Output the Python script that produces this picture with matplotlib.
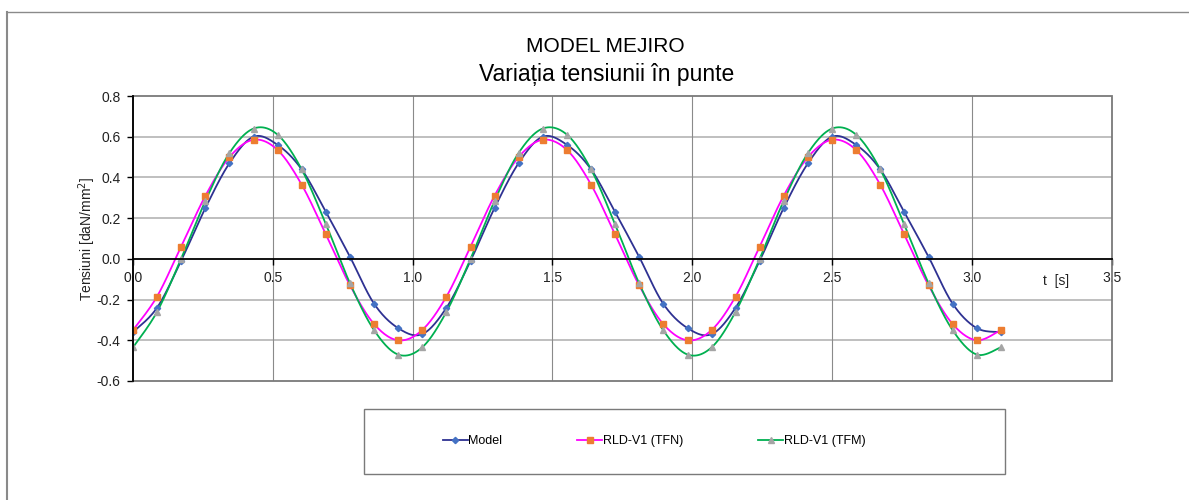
import numpy as np
import matplotlib
matplotlib.use("Agg")
import matplotlib.pyplot as plt
from matplotlib.lines import Line2D
from matplotlib.patches import Rectangle

plt.rcParams['font.family'] = ['Liberation Sans', 'DejaVu Sans']

# time samples [s]
t = [0.000, 0.086, 0.172, 0.259, 0.345, 0.431, 0.517, 0.603, 0.690, 0.776,
     0.862, 0.948, 1.034, 1.121, 1.207, 1.293, 1.379, 1.465, 1.552, 1.638,
     1.724, 1.810, 1.896, 1.983, 2.069, 2.155, 2.241, 2.327, 2.414, 2.500,
     2.586, 2.672, 2.758, 2.845, 2.931, 3.017, 3.103]

model = [-0.36, -0.24, -0.01, 0.25, 0.47, 0.60, 0.56, 0.44, 0.23, 0.01,
         -0.22, -0.34, -0.37, -0.24, -0.01, 0.25, 0.47, 0.60, 0.56, 0.44,
         0.23, 0.01, -0.22, -0.34, -0.37, -0.24, -0.01, 0.25, 0.47, 0.60,
         0.56, 0.44, 0.23, 0.01, -0.22, -0.34, -0.36]

tfn = [-0.35, -0.185, 0.06, 0.31, 0.50, 0.585, 0.535, 0.365, 0.12, -0.13,
       -0.32, -0.40, -0.35, -0.185, 0.06, 0.31, 0.50, 0.585, 0.535, 0.365,
       0.12, -0.13, -0.32, -0.40, -0.35, -0.185, 0.06, 0.31, 0.50, 0.585,
       0.535, 0.365, 0.12, -0.13, -0.32, -0.40, -0.35]

tfm = [-0.435, -0.26, 0.0, 0.285, 0.52, 0.64, 0.61, 0.44, 0.17, -0.12,
       -0.35, -0.47, -0.435, -0.26, 0.0, 0.285, 0.52, 0.64, 0.61, 0.44,
       0.17, -0.12, -0.35, -0.47, -0.435, -0.26, 0.0, 0.285, 0.52, 0.64,
       0.61, 0.44, 0.17, -0.12, -0.35, -0.47, -0.435]

labels = ['Model', 'RLD-V1 (TFN)', 'RLD-V1 (TFM)']
x_ticks = [0.0, 0.5, 1.0, 1.5, 2.0, 2.5, 3.0, 3.5]
y_ticks = [-0.6, -0.4, -0.2, 0.0, 0.2, 0.4, 0.6, 0.8]


def smooth(x, y, n=24):
    # excel-like smoothed line (bezier through the points)
    x = np.asarray(x, float)
    y = np.asarray(y, float)
    px = np.concatenate([[x[0]], x, [x[-1]]])
    py = np.concatenate([[y[0]], y, [y[-1]]])
    s = np.linspace(0, 1, n)[:, None]
    xs, ys = [], []
    for i in range(1, len(px) - 2):
        p0 = np.array([px[i], py[i]])
        p3 = np.array([px[i + 1], py[i + 1]])
        c1 = p0 + (p3 - np.array([px[i - 1], py[i - 1]])) / 6
        c2 = p3 - (np.array([px[i + 2], py[i + 2]]) - p0) / 6
        b = ((1 - s) ** 3) * p0 + 3 * ((1 - s) ** 2) * s * c1 + 3 * (1 - s) * s ** 2 * c2 + s ** 3 * p3
        xs.append(b[:, 0])
        ys.append(b[:, 1])
    return np.concatenate(xs), np.concatenate(ys)


fig = plt.figure(figsize=(11.89, 5.0), dpi=100)
ax = fig.add_axes([133 / 1189, 1 - 381 / 500, (1111.7 - 133) / 1189, (381 - 96) / 500])

series = [
    (model, '#2e3192', '#4472c4', 'D', 3.2),
    (tfn, '#ff00ff', '#ed7d31', 's', 4.3),
    (tfm, '#00b050', '#a5a5a5', '^', 4.5),
]
handles = []
for (vals, lc, mc, mk, ms), lab in zip(series, labels):
    sx, sy = smooth(t, vals)
    ax.plot(sx, sy, color=lc, lw=1.3, zorder=3)
    ax.plot(t, vals, ls='none', marker=mk, ms=ms, mfc=mc, mec=mc, zorder=4)
    handles.append(Line2D([], [], color=lc, lw=1.3, marker=mk, ms=ms, mfc=mc, mec=mc))

ax.set_xlim(0, 3.5)
ax.set_ylim(-0.6, 0.8)
ax.set_xticks(x_ticks)
ax.set_yticks(y_ticks)
ax.set_xticklabels([f'{v:.1f}' for v in x_ticks])
ax.set_yticklabels([f'{v:.1f}' for v in y_ticks])

for v in y_ticks[1:-1]:
    if v != 0.0:
        ax.axhline(v, color='#b4b4b4', lw=1.2, zorder=1)
for v in x_ticks[1:-1]:
    ax.axvline(v, color='#8a8a8a', lw=0.8, zorder=1)

for side in ['top', 'right']:
    ax.spines[side].set_visible(False)
ax.add_patch(Rectangle((0, 0), 1, 1, transform=ax.transAxes, fill=False,
                       ec='#7a7a7a', lw=1.3, zorder=2, clip_on=False))
ax.spines['left'].set_color('black')
ax.spines['left'].set_linewidth(1.3)
ax.spines['left'].set_zorder(5)
ax.spines['bottom'].set_position(('data', 0))
ax.spines['bottom'].set_color('black')
ax.spines['bottom'].set_linewidth(1.3)
ax.spines['bottom'].set_zorder(5)
ax.tick_params(axis='both', direction='out', length=4, width=1, labelsize=10,
               colors='black', labelcolor='#222222')
ax.tick_params(axis='x', pad=5)
ax.tick_params(axis='y', pad=5)

ax.text(3.30, -0.111, 't  [s]', fontsize=10, color='#222222', ha='center', va='center')
fig.text(87 / 1189, 1 - 239 / 500, 'Tensiuni [daN/mm$^2$]', rotation=90,
         fontsize=10, color='#222222', ha='center', va='center')

fig.text(605 / 1189, 1 - 47 / 500, 'MODEL MEJIRO', fontsize=15,
         ha='center', va='center', color='black')
fig.text(607 / 1189, 1 - 75 / 500, 'Variația tensiunii în punte', fontsize=16.5,
         ha='center', va='center', color='black')

# legend box
fig.add_artist(Rectangle((364 / 1189, 1 - 474 / 500), (1005 - 364) / 1189, 65 / 500,
                         transform=fig.transFigure, fill=False, ec='#7a7a7a', lw=1.0))
fig.legend(handles, labels, loc='center', bbox_to_anchor=(654 / 1189, 1 - 441 / 500),
           ncol=3, frameon=False, fontsize=9, handlelength=2.0, handletextpad=0.05,
           columnspacing=6.0)

# outer chart border
fig.add_artist(Line2D([6.5 / 1189, 6.5 / 1189], [0, 1 - 11.5 / 500], transform=fig.transFigure,
                      color='#8a8a8a', lw=1.5))
fig.add_artist(Line2D([6.5 / 1189, 1], [1 - 11.5 / 500, 1 - 11.5 / 500], transform=fig.transFigure,
                      color='#8a8a8a', lw=1.0))

fig.savefig('out.png', dpi=100)
